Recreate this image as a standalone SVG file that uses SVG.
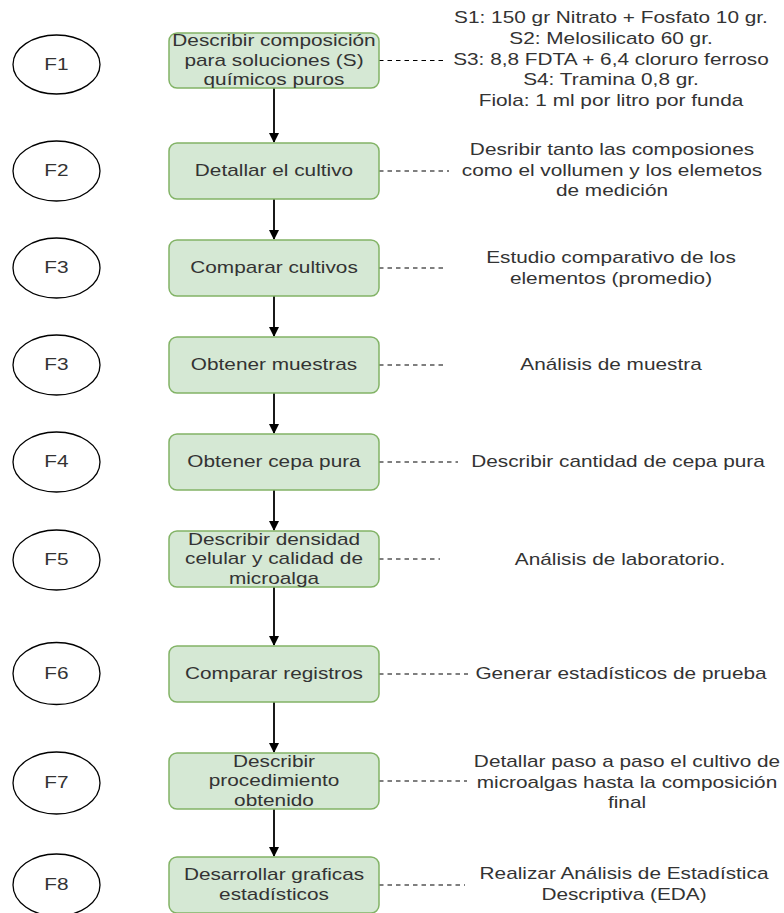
<svg xmlns="http://www.w3.org/2000/svg" width="784" height="913" viewBox="0 0 784 913">
<defs>
<style>
.t{font-family:"Liberation Sans",Arial,sans-serif;font-size:16px;fill:#333;text-anchor:middle}
.box{fill:#d5e8d4;stroke:#82b366;stroke-width:1.5}
.ell{fill:#fff;stroke:#000;stroke-width:1.3}
.arr{stroke:#000;stroke-width:1.8;fill:none}
.dash{stroke:#000;stroke-width:1.2;stroke-dasharray:4.5 4;fill:none}
</style>
<marker id="ah" viewBox="0 0 10 10" refX="9" refY="5" markerWidth="10" markerHeight="10" markerUnits="userSpaceOnUse" orient="auto">
<path d="M0,0 L10,5 L0,10 Z" fill="#000"/>
</marker>
</defs>
<rect width="784" height="913" fill="#fff"/>

<g id="connectors">
<line class="arr" x1="274" y1="88" x2="274" y2="142" marker-end="url(#ah)"/>
<line class="arr" x1="274" y1="199" x2="274" y2="239" marker-end="url(#ah)"/>
<line class="arr" x1="274" y1="296" x2="274" y2="336" marker-end="url(#ah)"/>
<line class="arr" x1="274" y1="393" x2="274" y2="433" marker-end="url(#ah)"/>
<line class="arr" x1="274" y1="490" x2="274" y2="530" marker-end="url(#ah)"/>
<line class="arr" x1="274" y1="587" x2="274" y2="645" marker-end="url(#ah)"/>
<line class="arr" x1="274" y1="702" x2="274" y2="752" marker-end="url(#ah)"/>
<line class="arr" x1="274" y1="809" x2="274" y2="856" marker-end="url(#ah)"/>
<line class="dash" x1="379" y1="60.5" x2="447" y2="60.5"/>
<line class="dash" x1="379" y1="171" x2="449" y2="171"/>
<line class="dash" x1="379" y1="268" x2="447" y2="268"/>
<line class="dash" x1="379" y1="365" x2="447" y2="365"/>
<line class="dash" x1="379" y1="462" x2="458" y2="462"/>
<line class="dash" x1="379" y1="559" x2="440" y2="559"/>
<line class="dash" x1="379" y1="674" x2="468" y2="674"/>
<line class="dash" x1="379" y1="781" x2="467" y2="781"/>
<line class="dash" x1="379" y1="885" x2="465" y2="885"/>
</g>

<g id="f1"><ellipse class="ell" cx="56.5" cy="64.5" rx="43.5" ry="29.5"/><text class="t" transform="matrix(1.3 0 0 1 56.5 0)" x="0" y="70">F1</text></g>
<g id="f2"><ellipse class="ell" cx="56.5" cy="171" rx="43.5" ry="30"/><text class="t" transform="matrix(1.3 0 0 1 56.5 0)" x="0" y="176.5">F2</text></g>
<g id="f3a"><ellipse class="ell" cx="56.5" cy="268" rx="43.5" ry="30"/><text class="t" transform="matrix(1.3 0 0 1 56.5 0)" x="0" y="273.5">F3</text></g>
<g id="f3b"><ellipse class="ell" cx="56.5" cy="365" rx="43.5" ry="30"/><text class="t" transform="matrix(1.3 0 0 1 56.5 0)" x="0" y="370.5">F3</text></g>
<g id="f4"><ellipse class="ell" cx="56.5" cy="462" rx="43.5" ry="30"/><text class="t" transform="matrix(1.3 0 0 1 56.5 0)" x="0" y="467.5">F4</text></g>
<g id="f5"><ellipse class="ell" cx="56.5" cy="560" rx="43.5" ry="30"/><text class="t" transform="matrix(1.3 0 0 1 56.5 0)" x="0" y="565.5">F5</text></g>
<g id="f6"><ellipse class="ell" cx="56.5" cy="673.5" rx="43.5" ry="31"/><text class="t" transform="matrix(1.3 0 0 1 56.5 0)" x="0" y="679">F6</text></g>
<g id="f7"><ellipse class="ell" cx="56.5" cy="783" rx="43.5" ry="31"/><text class="t" transform="matrix(1.3 0 0 1 56.5 0)" x="0" y="788.5">F7</text></g>
<g id="f8"><ellipse class="ell" cx="56.5" cy="885" rx="43.5" ry="31"/><text class="t" transform="matrix(1.3 0 0 1 56.5 0)" x="0" y="890.5">F8</text></g>

<g id="b1"><rect class="box" x="169" y="33" width="210" height="55" rx="8"/>
<text class="t" transform="matrix(1.3 0 0 1 274 0)"><tspan x="0" y="46.5">Describir composición</tspan><tspan x="0" y="66">para soluciones (S)</tspan><tspan x="0" y="85.5">químicos puros</tspan></text></g>
<g id="b2"><rect class="box" x="169" y="143" width="210" height="56" rx="8"/>
<text class="t" transform="matrix(1.3 0 0 1 274 0)" x="0" y="176.5">Detallar el cultivo</text></g>
<g id="b3"><rect class="box" x="169" y="240" width="210" height="56" rx="8"/>
<text class="t" transform="matrix(1.3 0 0 1 274 0)" x="0" y="273.5">Comparar cultivos</text></g>
<g id="b4"><rect class="box" x="169" y="337" width="210" height="56" rx="8"/>
<text class="t" transform="matrix(1.3 0 0 1 274 0)" x="0" y="370.5">Obtener muestras</text></g>
<g id="b5"><rect class="box" x="169" y="434" width="210" height="56" rx="8"/>
<text class="t" transform="matrix(1.3 0 0 1 274 0)" x="0" y="467.5">Obtener cepa pura</text></g>
<g id="b6"><rect class="box" x="169" y="531" width="210" height="56" rx="8"/>
<text class="t" transform="matrix(1.3 0 0 1 274 0)"><tspan x="0" y="545">Describir densidad</tspan><tspan x="0" y="564.5">celular y calidad de</tspan><tspan x="0" y="584">microalga</tspan></text></g>
<g id="b7"><rect class="box" x="169" y="646" width="210" height="56" rx="8"/>
<text class="t" transform="matrix(1.3 0 0 1 274 0)" x="0" y="679.5">Comparar registros</text></g>
<g id="b8"><rect class="box" x="169" y="753" width="210" height="56" rx="8"/>
<text class="t" transform="matrix(1.3 0 0 1 274 0)"><tspan x="0" y="767">Describir</tspan><tspan x="0" y="786.5">procedimiento</tspan><tspan x="0" y="806">obtenido</tspan></text></g>
<g id="b9"><rect class="box" x="169" y="857" width="210" height="56" rx="8"/>
<text class="t" transform="matrix(1.3 0 0 1 274 0)"><tspan x="0" y="880">Desarrollar graficas</tspan><tspan x="0" y="900">estadísticos</tspan></text></g>

<g id="n1"><text class="t" transform="matrix(1.3 0 0 1 611 0)"><tspan x="0" y="23.5">S1: 150 gr Nitrato + Fosfato 10 gr.</tspan><tspan x="0" y="44.1">S2: Melosilicato 60 gr.</tspan><tspan x="0" y="64.7">S3: 8,8 FDTA + 6,4 cloruro ferroso</tspan><tspan x="0" y="85.3">S4: Tramina 0,8 gr.</tspan><tspan x="0" y="105.9">Fiola: 1 ml por litro por funda</tspan></text></g>
<g id="n2"><text class="t" transform="matrix(1.3 0 0 1 612 0)"><tspan x="0" y="155.5">Desribir tanto las composiones</tspan><tspan x="0" y="176.5">como el vollumen y los elemetos</tspan><tspan x="0" y="196.5">de medición</tspan></text></g>
<g id="n3"><text class="t" transform="matrix(1.3 0 0 1 611 0)"><tspan x="0" y="263.5">Estudio comparativo de los</tspan><tspan x="0" y="284.5">elementos (promedio)</tspan></text></g>
<g id="n4"><text class="t" transform="matrix(1.3 0 0 1 611 0)" x="0" y="370.5">Análisis de muestra</text></g>
<g id="n5"><text class="t" transform="matrix(1.3 0 0 1 618 0)" x="0" y="467.5">Describir cantidad de cepa pura</text></g>
<g id="n6"><text class="t" transform="matrix(1.3 0 0 1 620 0)" x="0" y="565">Análisis de laboratorio.</text></g>
<g id="n7"><text class="t" transform="matrix(1.3 0 0 1 621 0)" x="0" y="679.5">Generar estadísticos de prueba</text></g>
<g id="n8"><text class="t" transform="matrix(1.3 0 0 1 627 0)"><tspan x="0" y="767.5">Detallar paso a paso el cultivo de</tspan><tspan x="0" y="788.5">microalgas hasta la composición</tspan><tspan x="0" y="808.5">final</tspan></text></g>
<g id="n9"><text class="t" transform="matrix(1.3 0 0 1 624 0)"><tspan x="0" y="879.5">Realizar Análisis de Estadística</tspan><tspan x="0" y="900.5">Descriptiva (EDA)</tspan></text></g>
</svg>
